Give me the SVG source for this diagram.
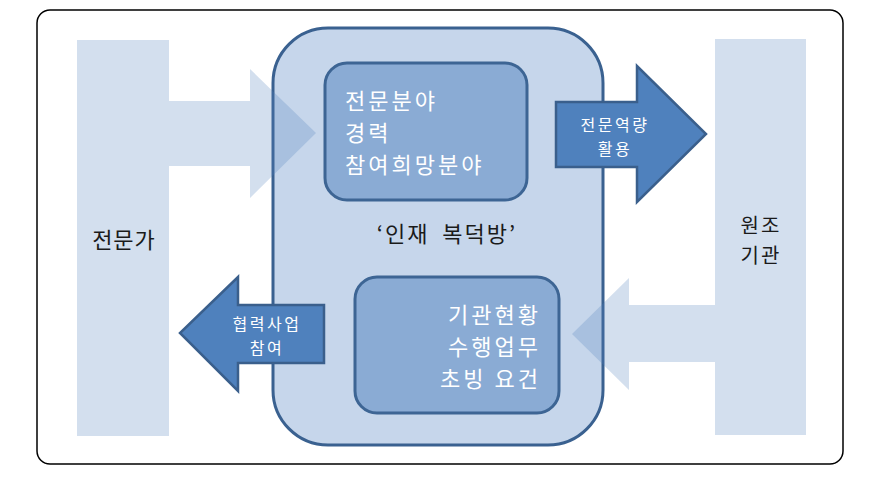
<svg xmlns="http://www.w3.org/2000/svg" width="890" height="494" viewBox="0 0 890 494">
<style>
text{font-family:"Noto Sans CJK KR","Noto Sans",sans-serif}
.lite{fill:#4f81bd;fill-opacity:0.25}
.dark{fill:#4f81bd;stroke:#3a5f8c;stroke-width:2.5;stroke-linejoin:miter}
.inner{fill:#8aabd4;stroke:#3d6594;stroke-width:3}
.wt{fill:#ffffff}
.bk{fill:#1a1a1a}
.big{font-size:22px;letter-spacing:3px}
.sm{font-size:16px;letter-spacing:2.5px;text-anchor:middle;fill:#ffffff}
</style>
<rect x="37" y="10" width="806" height="454" rx="13" fill="#ffffff" stroke="#000000" stroke-width="1.5"/>
<g id="main">
<rect x="273" y="28" width="330" height="417" rx="55" fill="#c6d6eb" stroke="#3a6190" stroke-width="3"/>
<text x="447" y="242" font-size="22" letter-spacing="2" word-spacing="6" text-anchor="middle" class="bk">‘인재 복덕방’</text>
</g>
<g id="expert">
<polygon class="lite" points="77,40 169,40 169,101 250,101 250,69 316,133 250,198 250,166 169,166 169,436 77,436"/>
<text x="124" y="248" font-size="22" letter-spacing="1" text-anchor="middle" class="bk">전문가</text>
</g>
<g id="agency">
<polygon class="lite" points="806,39 715,39 715,305 629,305 629,278 572,334 629,390 629,362 715,362 715,435 806,435"/>
<text x="761" y="233" font-size="20" letter-spacing="2" text-anchor="middle" class="bk">원조</text>
<text x="761" y="263" font-size="20" letter-spacing="2" text-anchor="middle" class="bk">기관</text>
</g>
<g id="topbox">
<rect x="325" y="63" width="202" height="137" rx="22" class="inner"/>
<text x="345" y="109" class="wt big">전문분야</text>
<text x="345" y="141" class="wt big">경력</text>
<text x="345" y="173" class="wt big">참여희망분야</text>
</g>
<g id="bottombox">
<rect x="355" y="277" width="204" height="136" rx="22" class="inner"/>
<text x="541" y="323" text-anchor="end" class="wt big">기관현황</text>
<text x="541" y="355" text-anchor="end" class="wt big">수행업무</text>
<text x="541" y="387" text-anchor="end" class="wt big">초빙 요건</text>
</g>
<g id="connectors">
<g id="arrow-out">
<polygon class="dark" points="556,102 637,102 637,66 706,134 637,202 637,167 556,167"/>
<text x="615" y="131" class="sm">전문역량</text>
<text x="615" y="155" class="sm">활용</text>
</g>
<g id="arrow-in">
<polygon class="dark" points="324,305 238,305 238,277 180,333 238,391 238,363 324,363"/>
<text x="267" y="330" class="sm">협력사업</text>
<text x="267" y="354" class="sm">참여</text>
</g>
</g>
</svg>
